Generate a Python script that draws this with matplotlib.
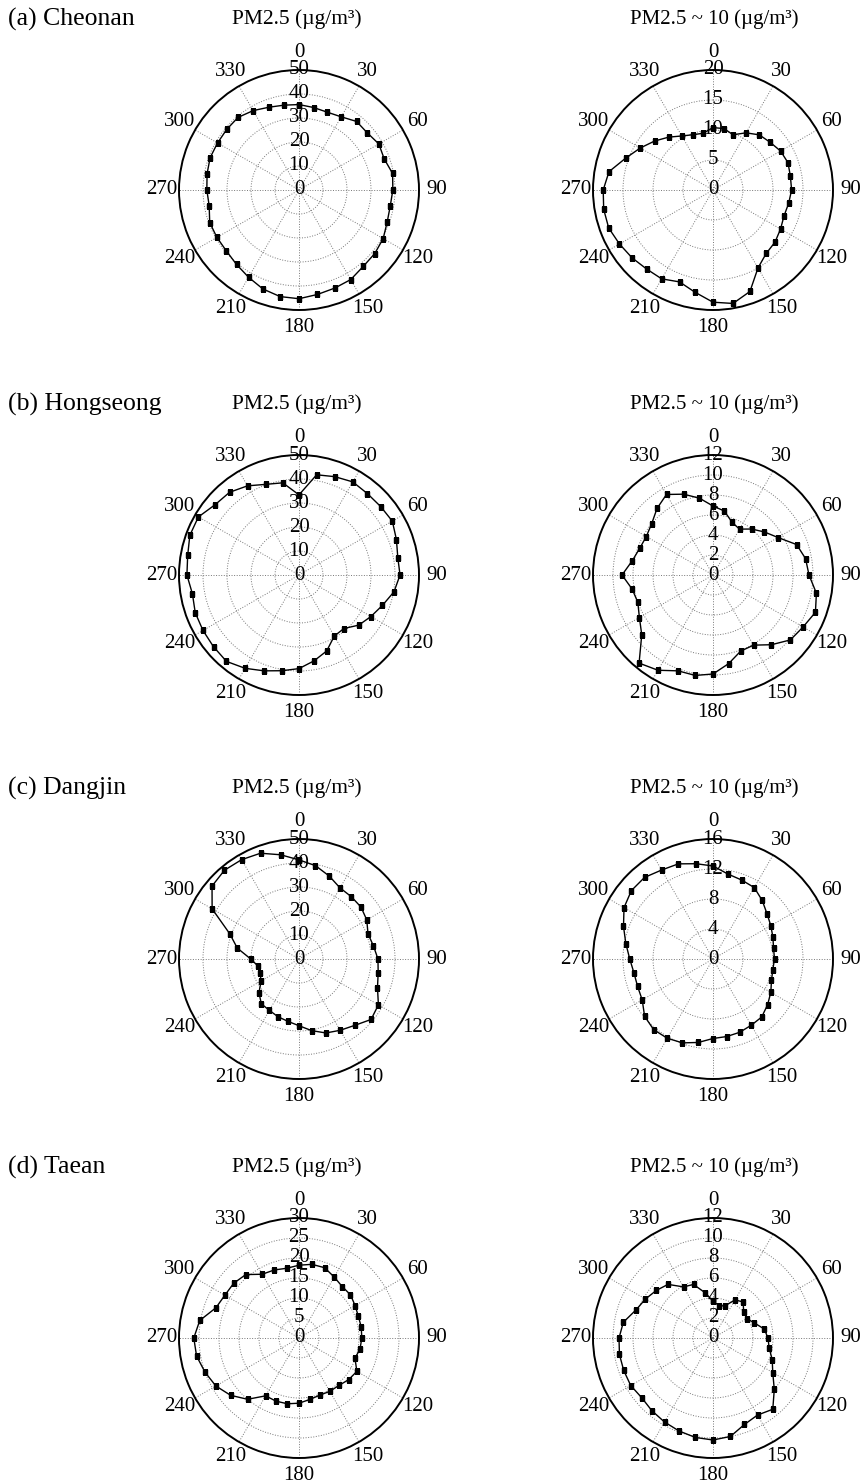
import numpy as np
import matplotlib
matplotlib.use("Agg")
import matplotlib.pyplot as plt

plt.rcParams['font.family'] = ['Liberation Serif', 'DejaVu Serif']

# wind direction (deg), one point every 10 degrees
directions = np.arange(0, 360, 10)

sites = ['(a) Cheonan', '(b) Hongseong', '(c) Dangjin', '(d) Taean']
titles = ['PM2.5 (µg/m³)', 'PM2.5 ~ 10 (µg/m³)']

cheonan_pm25 = [35.6, 34.9, 34.5, 35.2, 37.3, 37.1, 38.4, 37.8, 39.6, 39.1, 38.6, 39.1,
                40.5, 41.2, 41.6, 43.1, 43.5, 44.2, 45.3, 45.1, 43.9, 42.0, 40.5, 39.5,
                39.5, 39.6, 38.0, 38.4, 38.9, 39.4, 39.2, 39.3, 39.5, 38.2, 36.7, 35.9]
cheonan_coarse = [10.4, 10.4, 9.8, 11.0, 12.0, 12.4, 13.0, 13.3, 13.1, 13.1, 12.8, 12.6,
                  13.0, 13.5, 13.8, 15.0, 18.0, 19.2, 18.7, 17.3, 16.3, 17.1, 17.2, 17.6,
                  18.0, 18.5, 18.5, 18.3, 17.6, 15.5, 14.0, 12.7, 11.5, 10.4, 9.8, 9.6]

hongseong_pm25 = [33.4, 42.4, 43.6, 44.8, 44.3, 44.4, 44.9, 43.2, 41.8, 42.1, 40.2, 37.0,
                  34.6, 32.5, 29.1, 29.4, 33.7, 36.3, 39.0, 40.5, 42.5, 44.9, 47.0, 46.5,
                  46.2, 46.0, 45.1, 46.7, 47.1, 48.4, 48.4, 45.6, 45.0, 42.9, 40.2, 39.0]
hongseong_coarse = [6.9, 6.5, 5.6, 5.3, 6.0, 6.7, 7.5, 8.9, 9.4, 9.6, 10.5, 10.9,
                    10.4, 10.1, 9.1, 8.1, 8.1, 9.0, 9.9, 10.2, 10.2, 11.0, 11.5, 9.3,
                    8.5, 8.0, 8.2, 9.1, 8.2, 7.8, 7.7, 8.0, 8.7, 9.3, 8.6, 7.8]

dangjin_pm25 = [41.3, 39.5, 36.8, 34.2, 33.9, 33.7, 32.6, 30.6, 31.5, 32.9, 33.5, 34.8,
                38.2, 39.2, 36.1, 34.3, 32.8, 30.3, 27.8, 26.4, 25.6, 24.7, 24.4, 21.8,
                18.2, 17.3, 17.3, 20.1, 26.1, 30.7, 41.8, 47.3, 48.3, 47.8, 46.9, 44.1]
dangjin_coarse = [12.4, 11.5, 11.2, 11.0, 10.2, 9.4, 8.9, 8.5, 8.2, 8.2, 8.1, 8.3,
                  8.9, 9.5, 10.1, 10.2, 10.4, 10.5, 10.6, 11.3, 11.9, 12.2, 12.3, 11.9,
                  10.9, 10.7, 10.7, 11.1, 11.8, 12.7, 13.7, 14.2, 14.2, 13.7, 13.5, 12.9]

taean_pm25 = [18.2, 18.7, 18.7, 17.6, 16.8, 16.8, 16.2, 15.8, 15.8, 15.7, 15.5, 14.9,
              16.7, 16.2, 15.5, 15.4, 15.2, 15.6, 16.3, 16.7, 16.8, 16.7, 20.0, 22.3,
              24.0, 25.0, 26.0, 26.3, 25.2, 22.1, 21.4, 21.3, 20.7, 18.4, 18.1, 17.7]
taean_coarse = [3.7, 3.3, 3.4, 4.4, 4.7, 4.0, 3.9, 4.4, 5.2, 5.5, 5.7, 6.3,
                6.9, 8.0, 9.3, 8.9, 9.2, 10.0, 10.2, 10.1, 9.9, 9.7, 9.5, 9.3,
                9.5, 9.5, 9.5, 9.4, 9.1, 8.2, 7.8, 7.4, 7.0, 5.9, 5.7, 4.6]

pm25_data = [cheonan_pm25, hongseong_pm25, dangjin_pm25, taean_pm25]
coarse_data = [cheonan_coarse, hongseong_coarse, dangjin_coarse, taean_coarse]

# radial ticks for each panel
pm25_ticks = [[0, 10, 20, 30, 40, 50], [0, 10, 20, 30, 40, 50],
              [0, 10, 20, 30, 40, 50], [0, 5, 10, 15, 20, 25, 30]]
coarse_ticks = [[0, 5, 10, 15, 20], [0, 2, 4, 6, 8, 10, 12],
                [0, 4, 8, 12, 16], [0, 2, 4, 6, 8, 10, 12]]

W, H = 867, 1484
fig = plt.figure(figsize=(W / 100, H / 100), dpi=100)

row_cy = [190, 575, 959, 1338]
col_cx = [299, 713]
R = 120


def polar_panel(cx, cy, values, ticks):
    ax = fig.add_axes([(cx - R) / W, 1 - (cy + R) / H, 2 * R / W, 2 * R / H],
                      projection='polar')
    ax.set_theta_zero_location('N')
    ax.set_theta_direction(-1)
    th = np.deg2rad(np.append(directions, directions[0]))
    v = np.append(values, values[0])
    ax.plot(th, v, color='black', lw=1.0, marker='s', ms=3.6, mew=0.3,
            mec='black', mfc='black')
    ax.set_ylim(0, ticks[-1])
    ax.set_yticks(ticks)
    ax.set_yticklabels([])
    ax.set_thetagrids(range(0, 360, 30), [str(a) for a in range(0, 360, 30)])
    ax.tick_params(axis='x', labelsize=15, pad=2)
    ax.grid(True, linestyle=':', color='#777777', lw=0.7)
    ax.spines['polar'].set_linewidth(1.4)
    for t in ticks:
        ax.text(0, t, str(t), ha='center', va='center', fontsize=15)
    return ax


for i in range(4):
    polar_panel(col_cx[0], row_cy[i], pm25_data[i], pm25_ticks[i])
    polar_panel(col_cx[1], row_cy[i], coarse_data[i], coarse_ticks[i])
    ty = 1 - (row_cy[i] - 171) / H
    fig.text(8 / W, ty, sites[i], ha='left', va='center', fontsize=18.5)
    fig.text(297 / W, ty, titles[0], ha='center', va='center', fontsize=15.5)
    fig.text(714 / W, ty, titles[1], ha='center', va='center', fontsize=15)

fig.savefig('out.png', dpi=100)
